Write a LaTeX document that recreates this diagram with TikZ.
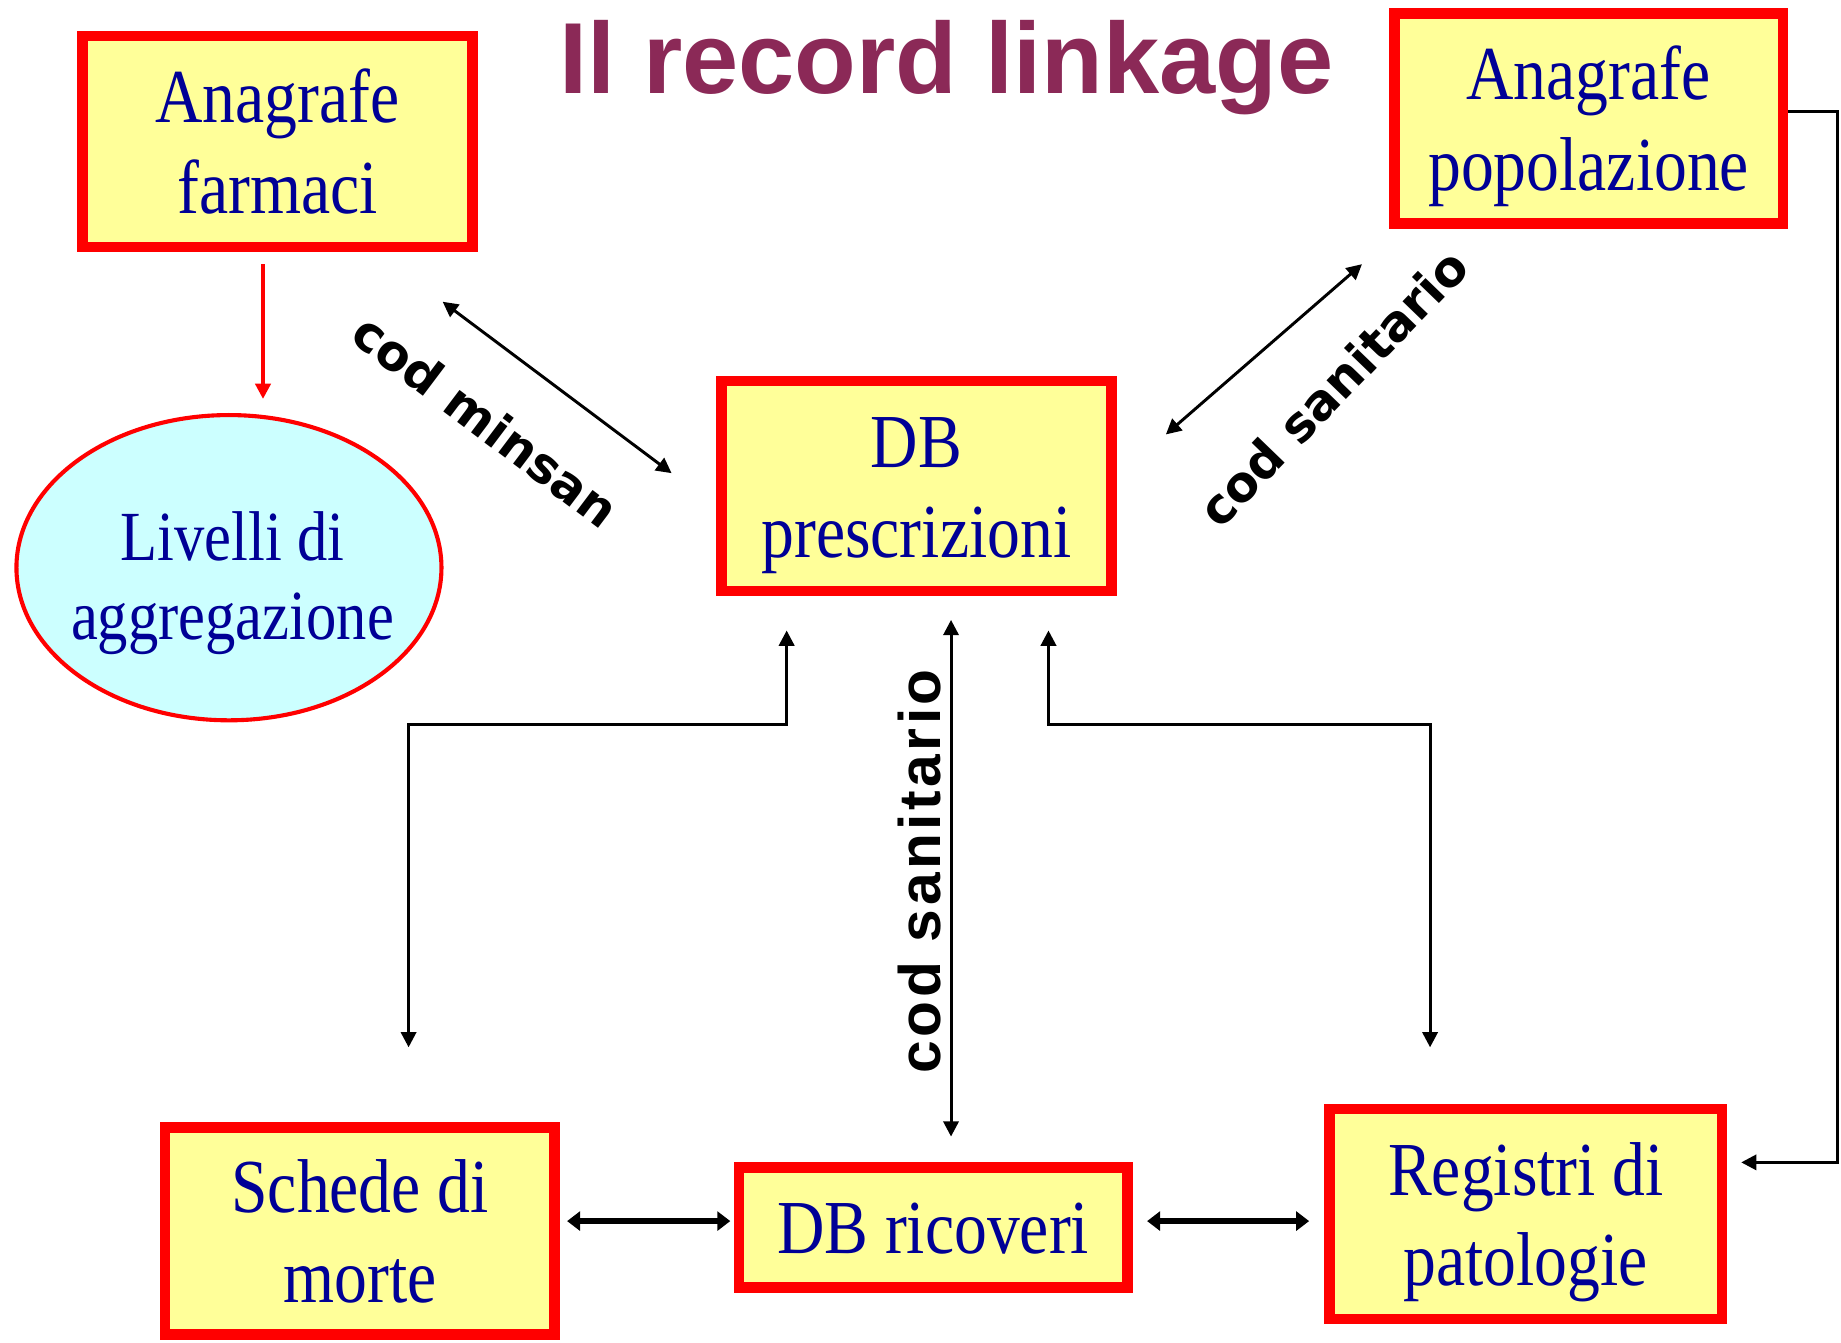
\documentclass[tikz,border=0pt]{standalone}
\usepackage{fontspec}
\usetikzlibrary{arrows.meta,shapes.geometric,calc}
\newfontfamily\tnr[FakeStretch=0.86]{Liberation Serif}
\newfontfamily\arb{Liberation Sans}
\newfontfamily\dvs{DejaVu Sans}
\definecolor{titlecol}{RGB}{139,41,87}
\definecolor{boxfill}{RGB}{255,255,153}
\definecolor{ellfill}{RGB}{204,255,255}
\definecolor{txtblue}{RGB}{0,0,150}
\newcommand\tline[2][45pt]{\raisebox{0pt}[#1][0pt]{#2}}
\tikzset{
  x=1pt,y=-1pt,
  dbox/.style={draw=red,line width=9pt,fill=boxfill,inner sep=0pt,
    minimum width=#1,align=center,text=txtblue,
    font=\tnr\fontsize{65}{77}\selectfont},
  tip/.style={-{Triangle[length=13pt,width=13pt]}},
  dtip/.style={{Triangle[length=13pt,width=13pt]}-{Triangle[length=13pt,width=13pt]}},
  thinarr/.style={line width=2.5pt,black},
  lab/.style={font=\dvs\bfseries\fontsize{42}{46}\selectfont,inner sep=0pt},
}
\begin{document}
\begin{tikzpicture}
\useasboundingbox (0,0) rectangle (1568,1143);
% title
\node[font=\arb\bfseries\fontsize{86}{90}\selectfont,text=titlecol,anchor=base west,inner sep=0pt] (title) at (476,80) {Il record linkage};
% boxes
\node[dbox=332pt,minimum height=180pt] (farm) at (236.5,120.5) {\tline{Anagrafe}\\\tline{farmaci}};
\node[dbox=331pt,minimum height=179pt] (pop) at (1353,101) {\tline{Anagrafe}\\\tline{popolazione}};
\node[dbox=332pt,minimum height=179pt] (presc) at (780.5,414) {\tline{DB}\\\tline{prescrizioni}};
\node[dbox=332pt,minimum height=176pt] (sched) at (306.5,1048.5) {\tline{Schede di}\\\tline{morte}};
\node[dbox=331pt,minimum height=102pt] (ric) at (795,1045.5) {\tline{DB ricoveri}};
\node[dbox=334pt,minimum height=179pt] (reg) at (1299.5,1034) {\tline{Registri di}\\\tline{patologie}};
% ellipse
\node[ellipse,draw=red,line width=3.5pt,fill=ellfill,minimum width=362pt,minimum height=260pt,inner sep=0pt] (liv) at (195,483.5) {};
\node[align=center,text=txtblue,inner sep=0pt,font=\tnr\fontsize{60}{68}\selectfont] (livt) at ([xshift=3pt]liv.center) {\tline[55pt]{Livelli di}\\\tline[55pt]{aggregazione}};
% red arrow
\draw[tip,red,line width=3pt,shorten <=10pt,shorten >=12pt] ([xshift=-12.5pt]farm.south) -- ([xshift=-12.5pt]farm.south |- liv.north);
% diagonal cod minsan
\coordinate (m1) at (377,257);
\coordinate (m2) at (572,403);
\draw[dtip,thinarr] (m1) -- (m2);
\node[lab,rotate=-37] (lminsan) at (414,358) {cod minsan};
% diagonal cod sanitario
\coordinate (s1) at (993,370);
\coordinate (s2) at (1160,225);
\draw[dtip,thinarr] (s1) -- (s2);
\node[lab,rotate=46] (lsan) at (1135,330) {cod sanitario};
% vertical
\coordinate (v1) at (810,528);
\coordinate (v2) at (810,968);
\draw[dtip,thinarr] (v1) -- (v2);
\node[inner sep=0pt,rotate=90,font=\arb\bfseries\fontsize{50}{54}\selectfont\addfontfeature{LetterSpace=6}] (lvert) at (783,742) {cod sanitario};
% left elbow
\coordinate (e1) at (670,537);
\coordinate (e2) at (348,892);
\draw[dtip,thinarr] (e1) -- (670,617) -- (348,617) -- (e2);
% right elbow
\coordinate (f1) at (893,537);
\coordinate (f2) at (1218,892);
\draw[dtip,thinarr] (f1) -- (893,617) -- (1218,617) -- (f2);
% right connector
\coordinate (p1) at (1565,95);
\coordinate (p2) at (1483,990);
\draw[tip,thinarr] (pop.east |- p1) -- (p1) -- (p1 |- p2) -- (p2);
% bottom arrows
\coordinate (b1) at (483,1040);
\coordinate (b2) at (622,1040);
\coordinate (b3) at (977,1040);
\coordinate (b4) at (1115,1040);
\draw[{Triangle[length=11pt,width=16pt]}-{Triangle[length=11pt,width=16pt]},line width=4.5pt] (b1) -- (b2);
\draw[{Triangle[length=11pt,width=16pt]}-{Triangle[length=11pt,width=16pt]},line width=4.5pt] (b3) -- (b4);
\end{tikzpicture}
\end{document}
